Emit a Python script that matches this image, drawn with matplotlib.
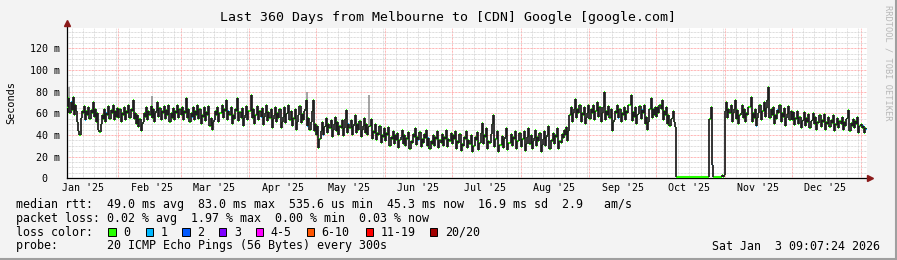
import numpy as np
import matplotlib
matplotlib.use("Agg")
import matplotlib.pyplot as plt
from matplotlib.patches import Rectangle
from matplotlib.lines import Line2D

W, H = 897, 260

TITLE = "Last 360 Days from Melbourne to [CDN] Google [google.com]"
Y_LABEL = "Seconds"
WATERMARK = "RRDTOOL / TOBI OETIKER"

# median rtt in ms, one value per 12 h step (2025-01-09 .. 2026-01-03)
rtt_jan = [66, 74, 60, 70, 63, 75, 58, 68, 62, 52, 44, 40, 56, 62, 60, 67, 54, 62, 58, 66, 55, 63, 60, 70,
           57, 64, 52, 60, 45, 43, 50, 58, 55, 64, 52, 60, 58, 67, 55, 63, 60, 68, 54, 62, 57, 65]
rtt_feb = [56, 64, 52, 60, 58, 66, 54, 62, 60, 68, 56, 64, 62, 72, 55, 60, 50, 58, 47, 55, 44, 50, 52, 60,
           57, 66, 54, 62, 58, 67, 56, 64, 52, 60, 62, 70, 57, 65, 54, 62, 60, 67, 55, 63, 58, 68, 52, 60,
           56, 65, 54, 62, 60, 68, 56, 64]
rtt_mar = [58, 66, 54, 62, 60, 74, 56, 64, 52, 60, 57, 66, 54, 62, 58, 68, 55, 64, 50, 58, 57, 66, 53, 61,
           58, 67, 48, 56, 45, 52, 54, 62, 58, 66, 52, 60, 60, 68, 56, 64, 62, 72, 54, 62, 58, 66, 50, 58,
           55, 64, 62, 74, 53, 61, 56, 65, 48, 56, 58, 67, 54, 62]
rtt_apr = [62, 77, 56, 64, 50, 58, 58, 67, 54, 62, 57, 65, 49, 57, 60, 68, 53, 61, 56, 64, 46, 55, 58, 66,
           52, 60, 56, 64, 46, 52, 57, 66, 51, 59, 60, 68, 54, 62, 48, 56, 55, 64, 45, 52, 58, 67, 51, 59,
           54, 62, 64, 72, 48, 56, 45, 52, 62, 72, 44, 50]
rtt_may = [40, 48, 28, 36, 44, 52, 40, 47, 48, 56, 42, 50, 46, 54, 38, 45, 50, 57, 44, 52, 40, 48, 46, 54,
           39, 46, 55, 63, 42, 50, 46, 54, 40, 48, 50, 58, 42, 50, 45, 53, 38, 45, 48, 56, 42, 50, 40, 47,
           48, 55, 36, 44, 42, 50, 35, 42, 40, 48, 33, 40, 38, 46]
rtt_jun = [34, 42, 40, 47, 30, 38, 36, 44, 32, 40, 35, 42, 28, 35, 38, 45, 32, 40, 30, 37, 36, 43, 27, 34,
           33, 41, 38, 46, 31, 38, 35, 43, 29, 36, 33, 41, 37, 45, 30, 37, 27, 34, 32, 40, 30, 38, 36, 44,
           28, 35, 33, 41, 30, 38, 36, 45, 29, 36, 34, 42]
rtt_jul = [32, 40, 36, 44, 27, 34, 33, 41, 25, 32, 30, 38, 36, 44, 28, 35, 32, 40, 24, 30, 30, 38, 35, 43,
           26, 33, 42, 51, 32, 40, 38, 46, 27, 34, 33, 41, 50, 58, 29, 36, 36, 44, 24, 31, 31, 39, 28, 36,
           38, 46, 26, 33, 33, 41, 30, 38, 36, 44, 27, 34, 34, 42]
rtt_aug = [29, 36, 36, 44, 25, 32, 38, 46, 32, 40, 27, 34, 37, 45, 30, 38, 34, 42, 24, 31, 36, 44, 30, 38,
           40, 48, 27, 35, 34, 42, 32, 40, 38, 46, 27, 34, 33, 41, 37, 45, 40, 47, 34, 44, 58, 66, 52, 60,
           64, 73, 56, 64, 60, 68, 52, 60, 58, 66, 50, 56, 60, 68]
rtt_sep = [55, 64, 60, 68, 54, 62, 62, 70, 57, 66, 52, 60, 66, 80, 54, 62, 58, 67, 56, 64, 44, 52, 54, 62,
           60, 68, 56, 64, 52, 60, 58, 66, 54, 62, 60, 68, 68, 77, 53, 61, 57, 66, 50, 58, 59, 67, 55, 63,
           60, 68, 50, 57, 45, 52, 64, 74, 56, 64, 58, 66]
rtt_oct = [57, 66, 60, 68, 64, 72, 54, 62, 58, 66, 50, 58, 48, 55, 56, 62, 52, 47,
           1.0, 1.0, 1.0, 1.0, 1.0, 1.0, 1.0, 1.0, 1.0, 1.0, 1.0, 1.0, 1.0, 1.0,
           1.0, 1.0, 1.0, 1.0, 1.0, 1.0, 1.0, 1.0, 1.0, 1.0, 1.0, 1.0, 1.0, 1.0,
           1.0, 1.0, 55, 66, 12, 1.0, 1.0, 1.0, 1.0, 1.0, 1.5, 1.0, 1.0, 3, 1.5, 3]
rtt_nov = [62, 70, 56, 64, 60, 68, 52, 60, 64, 72, 55, 63, 50, 58, 60, 68, 56, 64, 52, 60, 58, 66, 66, 75,
           52, 60, 56, 64, 48, 56, 60, 68, 54, 62, 62, 70, 57, 65, 72, 84, 56, 64, 58, 66, 50, 58, 55, 63,
           60, 68, 52, 60, 57, 65, 48, 56, 59, 67, 54, 62]
rtt_dec = [54, 61, 49, 56, 55, 62, 50, 57, 46, 53, 54, 61, 48, 56, 52, 59, 46, 53, 54, 60, 50, 57, 45, 52,
           51, 58, 47, 54, 52, 59, 45, 52, 50, 57, 47, 54, 51, 58, 44, 50, 49, 56, 46, 53, 50, 57, 45, 52,
           48, 55, 56, 63, 44, 51, 48, 55, 46, 53, 50, 57, 42, 48]
rtt_jan26 = [50, 46, 48, 42, 46, 45.3]

first_day = 8.0  # 0 = 2025-01-01 00:00
step_days = 0.5

# steps (days since 2025-01-01) whose median had 1 lost ping
loss1_times = [9.5, 16.0, 25.5, 64.0, 74.0, 80.5, 95.0, 116.0, 123.0, 134.5, 158.0, 166.0, 170.5,
               256.0, 266.5, 298.0, 318.0, 327.5, 366.0, 367.5]

# single tall smoke spikes (grey)
smoke_times = [9.0, 46.0, 116.0, 144.0]
smoke_top = [84, 76, 80, 77]

y_ticks = [0, 20, 40, 60, 80, 100, 120]
y_tick_labels = ["0\u00a0\u00a0", "20 m", "40 m", "60 m", "80 m", "100 m", "120 m"]

legend_rtt = "median rtt:  49.0 ms avg  83.0 ms max  535.6 us min  45.3 ms now  16.9 ms sd  2.9   am/s"
legend_loss = "packet loss: 0.02 % avg  1.97 % max  0.00 % min  0.03 % now"
loss_labels = ["0", "1", "2", "3", "4-5", "6-10", "11-19", "20/20"]
loss_colors = ["#26ff00", "#00b8ff", "#0059ff", "#7e00ff", "#ff00ff", "#ff5500", "#ff0000", "#a10000"]
probe_text = "probe:       20 ICMP Echo Pings (56 Bytes) every 300s"
stamp = "Sat Jan  3 09:07:24 2026"

MONO = "DejaVu Sans Mono"
plt.rcParams["font.family"] = MONO


def fx(px):
    return px / W


def fy(py):
    return 1 - py / H


rtt = np.array(rtt_jan + rtt_feb + rtt_mar + rtt_apr + rtt_may + rtt_jun + rtt_jul + rtt_aug
               + rtt_sep + rtt_oct + rtt_nov + rtt_dec + rtt_jan26, dtype=float)
t = first_day + step_days * np.arange(len(rtt))

fig = plt.figure(figsize=(W / 100, H / 100), dpi=100, facecolor="#f3f3f3")

# plot area: x 67..867 px, y 28..178.3 px
ax = fig.add_axes([fx(67), fy(178.3), 800 / W, 150.3 / H])
ax.set_facecolor("white")
x0, x1 = 7.9, 367.9
ymax = 150.3 / (130 / 120)
ax.set_xlim(x0, x1)
ax.set_ylim(0, ymax)
for s in ax.spines.values():
    s.set_visible(False)

# grid
dot = (0, (0.72, 0.72))
months = np.arange("2025-01", "2026-02", dtype="datetime64[M]")
month_days = (months.astype("datetime64[D]") - np.datetime64("2025-01-01")).astype(int)
for m, d in zip(months, month_days):
    ndays = ((m + 1).astype("datetime64[D]") - m.astype("datetime64[D]")).astype(int)
    for k in range(5, ndays, 5):
        if x0 < d + k < x1:
            ax.axvline(d + k, color="#d2d2d2", lw=0.72, ls=dot, zorder=1)
    if x0 < d < x1:
        ax.axvline(d, color="#ff9c9c", lw=0.72, ls=dot, zorder=1)
for v in np.arange(5, ymax, 5):
    if v % 20:
        ax.axhline(v, color="#d2d2d2", lw=0.72, ls=dot, zorder=1)
for v in y_ticks[1:]:
    ax.axhline(v, color="#ff9c9c", lw=0.72, ls=dot, zorder=1)

# axes lines with arrows (under the data)
ax.add_line(Line2D([0, 0], [0, 1.03], transform=ax.transAxes, color="black", lw=0.9,
                   clip_on=False, zorder=2))
ax.add_line(Line2D([0, 1.003], [0, 0], transform=ax.transAxes, color="black", lw=0.9,
                   clip_on=False, zorder=2))
ax.plot([0], [1.032], marker="^", ms=4.5, color="#8b1a1a", transform=ax.transAxes, clip_on=False)
ax.plot([1.004], [0], marker=">", ms=4.5, color="#8b1a1a", transform=ax.transAxes, clip_on=False)

# data: coloured median steps, black transitions, grey smoke spikes
colors = [loss_colors[1] if ti in loss1_times else loss_colors[0] for ti in t]
smoke_base = [rtt[int(round((ts - first_day) / step_days))] for ts in smoke_times]
ax.vlines(smoke_times, smoke_base, smoke_top, color="#8a8a8a", lw=1.1, zorder=3)
ax.hlines(rtt, t, t + step_days, colors=colors, lw=1.5, zorder=4, clip_on=False)
ax.vlines(t[1:], np.minimum(rtt[:-1], rtt[1:]), np.maximum(rtt[:-1], rtt[1:]),
          color="#1c1c1c", lw=1.25, zorder=5)

# ticks
label_days = month_days + 15
keep = (label_days > x0) & (label_days < x1)
ax.set_xticks(label_days[keep], [m.item().strftime("%b '%y") for m in months[keep]])
ax.set_yticks(y_ticks, y_tick_labels)
ax.tick_params(axis="both", length=0, labelsize=7.2, colors="black")
ax.tick_params(axis="x", pad=3.4)
ax.tick_params(axis="y", pad=5)

# texts
fig.text(fx(448), fy(18), TITLE, ha="center", va="center", size=9.5)
fig.text(fx(11), fy(103), Y_LABEL, rotation=90, ha="center", va="center", size=7.4)
fig.text(fx(888), fy(5), WATERMARK, rotation=270, ha="center", va="top", size=6.2, color="#b8b8b8")

lsize = 8.4
fig.text(fx(16), fy(204.3), legend_rtt, ha="left", va="center", size=lsize)
fig.text(fx(16), fy(218.3), legend_loss, ha="left", va="center", size=lsize)
fig.text(fx(16), fy(232.3), "loss color:", ha="left", va="center", size=lsize)
box_x = [108.3, 145.7, 182.3, 219, 255.7, 306.7, 365.7, 430]
for bx, lab, col in zip(box_x, loss_labels, loss_colors):
    fig.add_artist(Rectangle((fx(bx), fy(236.3)), 7.3 / W, 8 / H, facecolor=col,
                             edgecolor="black", lw=0.7))
    fig.text(fx(bx + 15), fy(232.3), lab, ha="left", va="center", size=lsize)
fig.text(fx(16), fy(246), probe_text, ha="left", va="center", size=lsize)
fig.text(fx(880), fy(246), stamp, ha="right", va="center", size=lsize)

# frame shade
fig.add_artist(Line2D([0, 1], [fy(258.5), fy(258.5)], color="#9f9f9f", lw=1.5))
fig.add_artist(Line2D([fx(895.5), fx(895.5)], [0, 1], color="#9f9f9f", lw=1.5))

fig.savefig("out.png", dpi=100, facecolor=fig.get_facecolor())
